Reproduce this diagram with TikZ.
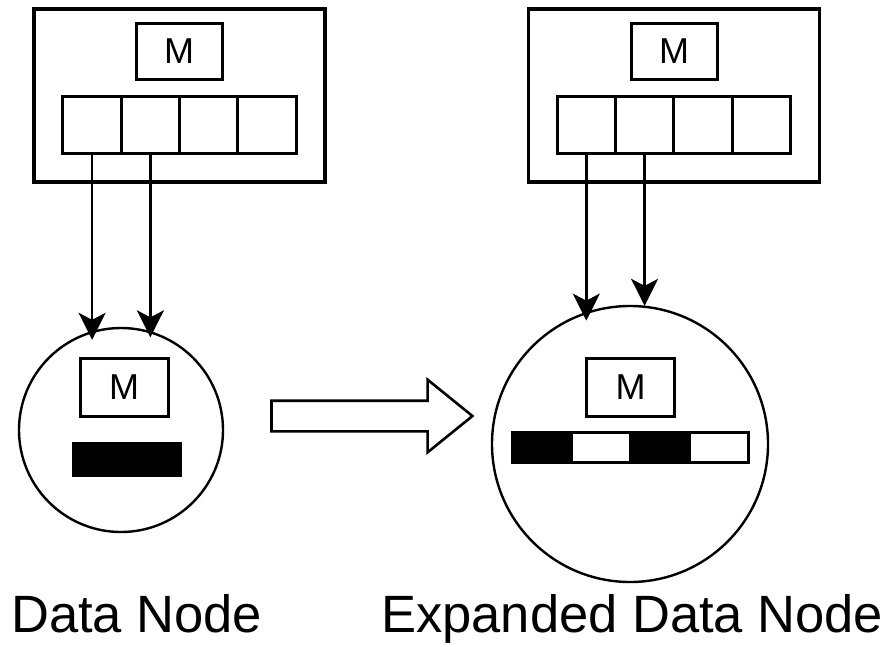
\documentclass[tikz,border=0pt]{standalone}
\usepackage{fontspec}
\setmainfont{Liberation Sans}
\usetikzlibrary{arrows.meta,positioning,shapes.arrows}

\begin{document}
\begin{tikzpicture}[
    x=1pt, y=-1pt,
    host/.style={draw, line width=3.4pt, minimum width=291pt, minimum height=173pt, inner sep=0pt},
    mbox/.style={draw, line width=3pt, minimum width=86pt, minimum height=56pt, inner sep=0pt, font=\fontsize{36}{40}\selectfont},
    cell/.style={draw, line width=3pt, minimum width=58.3pt, minimum height=57pt, inner sep=0pt, outer sep=0pt},
    dnode/.style={circle, draw, line width=2.4pt, inner sep=0pt},
    seg/.style={draw, line width=2.2pt, minimum width=59pt, minimum height=30pt, inner sep=0pt, outer sep=0pt},
    lbl/.style={inner sep=0pt, anchor=base west, font=\fontsize{52.5}{58}\selectfont},
    arr/.style={-{Stealth[length=27pt, width=27pt, inset=7pt]}, line width=2.6pt},
    bigarr/.style={single arrow, draw, line width=2.6pt, inner xsep=0pt, inner ysep=14pt,
      minimum height=201pt, single arrow head extend=21pt, single arrow tip angle=78,
      single arrow head indent=0pt},
  ]
  \useasboundingbox (0,0) rectangle (890,646);

  % --- left: host memory + data node ---
  \node[host] (hostL) at (179.5,95.5) {};
  \node[mbox] (mL) at (179,51) {M};
  \node[cell] (cL1) at (92.1,125) {};
  \foreach \i/\j in {2/1,3/2,4/3}
    \node[cell, right=0pt of cL\j] (cL\i) {};

  \node[dnode, minimum size=204pt] (dnL) at (121,430) {};
  \node[mbox, minimum width=88pt, minimum height=58pt] (dnLm) at (124,387) {M};
  \node[seg, fill=black, minimum width=108pt, minimum height=32pt] (dnLbar) at (127,459.5) {};

  \draw[arr, shorten >=-9pt] (cL1.south) -- (cL1.south |- dnL.106.5);
  \draw[arr, shorten >=-6pt] (cL2.south) -- (cL2.south |- dnL.73.5);

  % --- right: host memory + expanded data node ---
  \node[host] (hostR) at (674,95.5) {};
  \node[mbox] (mR) at (674,51) {M};
  \node[cell] (cR1) at (586.3,125) {};
  \foreach \i/\j in {2/1,3/2,4/3}
    \node[cell, right=0pt of cR\j] (cR\i) {};

  \node[dnode, minimum size=276pt] (dnR) at (630,444) {};
  \node[mbox, minimum width=88pt, minimum height=58pt] (dnRm) at (630.5,387) {M};
  \node[seg, fill=black] (sR1) at (542,447.5) {};
  \node[seg, right=0pt of sR1] (sR2) {};
  \node[seg, fill=black, right=0pt of sR2] (sR3) {};
  \node[seg, right=0pt of sR3] (sR4) {};

  \draw[arr, shorten >=-9pt] (cR1.south) -- (cR1.south |- dnR.108.2);
  \draw[arr] (cR2.south) -- (cR2.south |- dnR.83.7);

  % --- expansion arrow ---
  \node[bigarr] (grow) at (362.5,416) {};

  % --- captions ---
  \node[lbl] (capL) at (11,632) {Data Node};
  \node[lbl] (capR) at (381,632) {Expanded Data Node};
\end{tikzpicture}
\end{document}
